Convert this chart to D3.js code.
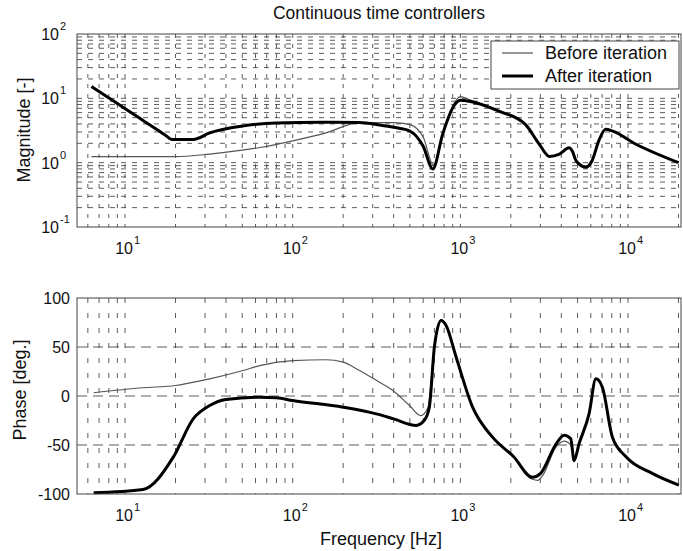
<!DOCTYPE html>
<html><head><meta charset="utf-8">
<script src="https://cdn.jsdelivr.net/npm/d3@7"></script>
<style>
body{margin:0;background:#fff;}
text{font-family:"Liberation Sans",Arial,Helvetica,sans-serif;fill:#111;}
</style></head>
<body><svg id="c" width="683" height="551"></svg>
<script>
// ---- data ----
const title = "Continuous time controllers";
const seriesNames = ["Before iteration", "After iteration"];
const xTickExp = [1, 2, 3, 4];
const magTickExp = [-1, 0, 1, 2];
const phaseTicks = [-100, -50, 0, 50, 100];

const magFreqBefore = [6.3, 20, 32, 64, 100, 158, 250, 400, 500, 600, 690, 800, 900, 1000, 1130, 1700, 2450, 2950, 3400, 3900, 4450, 4660, 4900, 5600, 6100, 6700, 7350, 8100, 11100, 20000];
const magBefore = [1.24, 1.24, 1.36, 1.72, 2.18, 2.9, 4.2, 4.2, 3.9, 2.5, 0.92, 3.2, 7.6, 10.6, 9.6, 6.4, 3.95, 1.95, 1.25, 1.36, 1.7, 1.5, 1.07, 0.85, 1.07, 2.2, 3.3, 3.1, 1.95, 1.0];

const magFreqAfter = [6.3, 9, 12, 15, 17.5, 19, 25.5, 32, 50, 80, 150, 250, 330, 400, 500, 600, 685, 785, 900, 1000, 1130, 1700, 2450, 2950, 3400, 3900, 4450, 4660, 4900, 5600, 6100, 6700, 7350, 8100, 11100, 20000];
const magAfter = [15.3, 8.29, 5.06, 3.45, 2.65, 2.3, 2.3, 2.9, 3.7, 4.15, 4.25, 4.2, 3.85, 3.55, 3.1, 1.8, 0.8, 2.8, 7.1, 9.3, 9.0, 6.3, 3.9, 1.95, 1.25, 1.36, 1.7, 1.5, 1.07, 0.85, 1.07, 2.2, 3.3, 3.1, 1.95, 1.0];

const phFreqBefore = [6.5, 12.8, 20, 32, 50.6, 63.5, 100, 158, 200, 250, 315, 396, 497, 580, 640, 700, 767, 822, 942, 1183, 1556, 2080, 2690, 2900, 3100, 3720, 4160, 4550, 4770, 5100, 5860, 6430, 7030, 8070, 9730, 13950, 20100];
const phBefore = [3.3, 8.4, 10.7, 17.5, 26, 31, 36, 37, 34.5, 26, 16, 5.6, -9.7, -20, -12, 50, 78, 72, 40, -11.4, -42, -62, -85, -86, -81, -52, -46, -50, -62, -49, -18, 17, 9, -42, -62, -79, -91];

const phFreqAfter = [6.5, 12.8, 19.4, 25.5, 32, 40, 63.5, 80, 100, 200, 315, 400, 545, 608, 653, 700, 767, 822, 942, 1183, 1556, 2080, 2690, 3010, 3720, 4160, 4550, 4770, 5100, 5860, 6430, 7030, 8070, 9730, 13950, 20100];
const phAfter = [-98.8, -95.4, -62.4, -23.3, -9.7, -3.6, -1.2, -1.8, -4.6, -11.4, -18.2, -23.3, -30, -25, -11.4, 50, 77, 72, 40, -11.4, -42, -62, -83, -79, -49, -40, -43.5, -66, -49, -18, 17.5, 9, -42, -62, -79, -91];

// ---- layout ----
const svg = d3.select("#c");
const L = 77, R = 681;
const x = d3.scaleLog().domain([5.17, 20700]).range([L, R]);
const yMag = d3.scaleLog().domain([0.1, 100]).range([227, 34]);
const yPh = d3.scaleLinear().domain([-100, 100]).range([494, 298]);

const minorVals = [];
for (let n = 0; n <= 4; n++) for (let k = 1; k <= 9; k++) {
  const v = k * Math.pow(10, n);
  if (v > 5.17 && v < 20700) minorVals.push(v);
}
const magH = [];
for (let n = -1; n <= 1; n++) for (let k = 1; k <= 9; k++) magH.push(k * Math.pow(10, n));

function gridV(g, yTop, yBot, dash) {
  g.selectAll(null).data(minorVals).enter().append("line")
    .attr("x1", d => x(d)).attr("x2", d => x(d))
    .attr("y1", yTop).attr("y2", yBot)
    .attr("stroke", "#333").attr("stroke-width", 0.8)
    .attr("stroke-dasharray", dash);
}

// magnitude grid
const gm = svg.append("g");
gridV(gm, 34, 227, "4,6");
gm.selectAll(null).data(magH.filter(d => d > 0.1)).enter().append("line")
  .attr("x1", L).attr("x2", R).attr("y1", d => yMag(d)).attr("y2", d => yMag(d))
  .attr("stroke", "#333").attr("stroke-width", 0.8).attr("stroke-dasharray", "5,6");

// phase grid
const gp = svg.append("g");
gridV(gp, 298, 494, "5,10");
gp.selectAll(null).data([-50, 0, 50]).enter().append("line")
  .attr("x1", L).attr("x2", R).attr("y1", d => yPh(d)).attr("y2", d => yPh(d))
  .attr("stroke", "#333").attr("stroke-width", 0.8).attr("stroke-dasharray", "10,6");

// curves
const lineMag = d3.line().curve(d3.curveMonotoneX).x(d => x(d[0])).y(d => yMag(d[1]));
const linePh = d3.line().curve(d3.curveMonotoneX).x(d => x(d[0])).y(d => yPh(d[1]));
const thin = {stroke: "#555", w: 1.2};
const thick = {stroke: "#000", w: 3};

function draw(data, fn, st) {
  svg.append("path").datum(data).attr("d", fn).attr("fill", "none")
    .attr("stroke", st.stroke).attr("stroke-width", st.w).attr("stroke-linejoin", "round");
}
draw(d3.zip(magFreqBefore, magBefore), lineMag, thin);
draw(d3.zip(magFreqAfter, magAfter), lineMag, thick);
draw(d3.zip(phFreqBefore, phBefore), linePh, thin);
draw(d3.zip(phFreqAfter, phAfter), linePh, thick);

// axes boxes
[[34, 227], [298, 494]].forEach(([t, b]) => {
  svg.append("rect").attr("x", L).attr("y", t).attr("width", R - L).attr("height", b - t)
    .attr("fill", "none").attr("stroke", "#444").attr("stroke-width", 1);
});

// x tick labels
function xLabels(baseY) {
  xTickExp.forEach(e => {
    const px = x(Math.pow(10, e));
    svg.append("text").attr("x", px - 1).attr("y", baseY).attr("text-anchor", "middle")
      .attr("font-size", 16).text("10");
    svg.append("text").attr("x", px + 9).attr("y", baseY - 10)
      .attr("font-size", 11).text(e);
  });
}
xLabels(254);
xLabels(521);

// magnitude y labels
magTickExp.forEach(e => {
  const py = yMag(Math.pow(10, e));
  svg.append("text").attr("x", 59).attr("y", py + 6).attr("text-anchor", "end")
    .attr("font-size", 16).text("10");
  svg.append("text").attr("x", 60).attr("y", py - 4)
    .attr("font-size", 11).text(e);
});
// phase y labels
phaseTicks.forEach(v => {
  svg.append("text").attr("x", 70).attr("y", yPh(v) + 6).attr("text-anchor", "end")
    .attr("font-size", 16).text(v);
});

// titles
svg.append("text").attr("x", 379).attr("y", 19).attr("text-anchor", "middle")
  .attr("font-size", 17.5).text(title);
svg.append("text").attr("transform", "translate(30,130) rotate(-90)").attr("text-anchor", "middle")
  .attr("font-size", 18).text("Magnitude [-]");
svg.append("text").attr("transform", "translate(26,390) rotate(-90)").attr("text-anchor", "middle")
  .attr("font-size", 18).text("Phase [deg.]");
svg.append("text").attr("x", 381).attr("y", 545).attr("text-anchor", "middle")
  .attr("font-size", 18).text("Frequency [Hz]");

// legend
const lg = svg.append("g");
lg.append("rect").attr("x", 491).attr("y", 41).attr("width", 188).attr("height", 48)
  .attr("fill", "#fff").attr("stroke", "#444").attr("stroke-width", 1);
[thin, thick].forEach((st, i) => {
  const yy = 53 + i * 23;
  lg.append("line").attr("x1", 502).attr("x2", 533).attr("y1", yy).attr("y2", yy)
    .attr("stroke", st.stroke).attr("stroke-width", st.w);
  lg.append("text").attr("x", 545).attr("y", yy + 6).attr("font-size", 18).text(seriesNames[i]);
});
</script></body></html>
